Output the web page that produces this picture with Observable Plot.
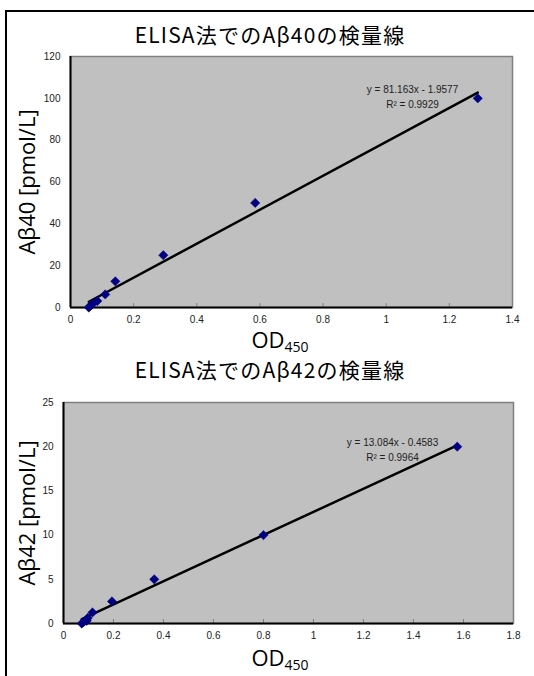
<!DOCTYPE html>
<html>
<head>
<meta charset="utf-8">
<script src="https://cdn.jsdelivr.net/npm/d3@7"></script>
<script src="https://cdn.jsdelivr.net/npm/@observablehq/plot@0.6"></script>
<style>
  html, body { margin: 0; padding: 0; background: #fff; }
  #page { position: relative; width: 534px; height: 676px; overflow: hidden; }
  #frame { position: absolute; left: 5px; top: 10px; width: 540px; height: 700px; border: 2px solid #000; box-sizing: border-box; }
  .title { position: absolute; left: 0; width: 540px; text-align: center; font-family: "Noto Sans CJK JP", "Noto Sans", sans-serif; font-size: 21px; letter-spacing: 1.2px; color: #000; line-height: 1; }
  .xlabel { position: absolute; left: 0; width: 560px; text-align: center; font-family: "Open Sans", "Noto Sans", sans-serif; font-size: 22px; color: #000; line-height: 1; }
  .xlabel sub { font-size: 14px; vertical-align: -4px; line-height: 0; }
  .chart { position: absolute; left: 0; }
</style>
</head>
<body>
<div id="page">
  <div id="frame"></div>
  <div class="title" style="top:24px;">ELISA法でのAβ40の検量線</div>
  <div class="chart" id="c1" style="top:48px;"></div>
  <div class="xlabel" style="top:328px;">OD<sub>450</sub></div>
  <div class="title" style="top:359px;">ELISA法でのAβ42の検量線</div>
  <div class="chart" id="c2" style="top:390px;"></div>
  <div class="xlabel" style="top:646px;">OD<sub>450</sub></div>
</div>
<script>
// ---- Data: Aβ40 standard curve ----
const ab40OD   = [0.058, 0.063, 0.069, 0.085, 0.110, 0.142, 0.294, 0.585, 1.290];
const ab40Conc = [0, 0.78, 1.56, 3.125, 6.25, 12.5, 25, 50, 100];
const ab40Fit  = {slope: 81.163, intercept: -1.9577, r2: 0.9929};
const ab40XTicks = [0, 0.2, 0.4, 0.6, 0.8, 1, 1.2, 1.4];
const ab40YTicks = [0, 20, 40, 60, 80, 100, 120];

// ---- Data: Aβ42 standard curve ----
const ab42OD   = [0.073, 0.080, 0.093, 0.097, 0.116, 0.194, 0.363, 0.800, 1.575];
const ab42Conc = [0, 0.156, 0.3125, 0.625, 1.25, 2.5, 5, 10, 20];
const ab42Fit  = {slope: 13.084, intercept: -0.4583, r2: 0.9964};
const ab42XTicks = [0, 0.2, 0.4, 0.6, 0.8, 1, 1.2, 1.4, 1.6, 1.8];
const ab42YTicks = [0, 5, 10, 15, 20, 25];

const tickFont = {fontFamily: "'Liberation Sans', Arial, sans-serif", fontSize: "10px", color: "#222", background: "transparent", overflow: "visible"};
const arial = "'Liberation Sans', Arial, sans-serif";

function makeChart({od, conc, fit, xTicks, yTicks, ylabel, eqText, r2Text, m, height, eqDx, eqDy}) {
  const pts = od.map((x, i) => ({x, y: conc[i]}));
  const xmin = d3.min(od), xmax = d3.max(od);
  const line = [xmin, xmax].map(x => ({x, y: fit.slope * x + fit.intercept}));
  const xDomain = [xTicks[0], xTicks[xTicks.length - 1]];
  const yDomain = [yTicks[0], yTicks[yTicks.length - 1]];
  return Plot.plot({
    width: 534,
    height,
    marginLeft: m.l, marginRight: m.r, marginTop: m.t, marginBottom: m.b,
    style: tickFont,
    x: {domain: xDomain, ticks: xTicks, label: null},
    y: {domain: yDomain, ticks: yTicks, label: null},
    marks: [
      Plot.frame({fill: "#c0c0c0", stroke: "#808080", strokeWidth: 1.5}),
      Plot.axisX({ticks: xTicks, tickSize: 4, dy: -4, stroke: "#808080", tickFormat: () => ""}),
      Plot.axisX({ticks: xTicks, tickSize: 0, tickPadding: 8, tickFormat: d => String(d), fontSize: 10, fill: "#222"}),
      Plot.axisY({ticks: yTicks, tickSize: 0, tickPadding: 10, tickFormat: d => String(d), fontSize: 10, fill: "#222"}),
      Plot.ruleY([yDomain[0]], {stroke: "#000", strokeWidth: 2}),
      Plot.ruleX([xDomain[0]], {stroke: "#000", strokeWidth: 2}),
      Plot.line(line, {x: "x", y: "y", stroke: "#000", strokeWidth: 2.5}),
      Plot.dot(pts, {x: "x", y: "y", symbol: "diamond2", r: 4.2, fill: "#000080", stroke: "#000080", strokeWidth: 0.5}),
      Plot.text([eqText], {frameAnchor: "top-right", dx: eqDx, dy: eqDy, fontSize: 10, fill: "#222", textAnchor: "middle", fontFamily: arial}),
      Plot.text([r2Text], {frameAnchor: "top-right", dx: eqDx, dy: eqDy + 15, fontSize: 10, fill: "#222", textAnchor: "middle", fontFamily: arial}),
      Plot.text([ylabel], {frameAnchor: "left", textAnchor: "middle", lineAnchor: "middle", rotate: -90, dx: -(m.l - 27), fontSize: 22, fill: "#000", fontFamily: "'Open Sans', 'Noto Sans', sans-serif"})
    ]
  });
}

const fmtEq = f => `y = ${f.slope}x - ${Math.abs(f.intercept)}`;

document.getElementById("c1").appendChild(makeChart({
  od: ab40OD, conc: ab40Conc, fit: ab40Fit, xTicks: ab40XTicks, yTicks: ab40YTicks,
  ylabel: "Aβ40 [pmol/L]", eqText: fmtEq(ab40Fit), r2Text: `R² = ${ab40Fit.r2}`,
  m: {l: 70, r: 22, t: 8, b: 26}, height: 285, eqDx: -100, eqDy: 29
}));

document.getElementById("c2").appendChild(makeChart({
  od: ab42OD, conc: ab42Conc, fit: ab42Fit, xTicks: ab42XTicks, yTicks: ab42YTicks,
  ylabel: "Aβ42 [pmol/L]", eqText: fmtEq(ab42Fit), r2Text: `R² = ${ab42Fit.r2}`,
  m: {l: 63, r: 21, t: 12, b: 17}, height: 250, eqDx: -121, eqDy: 36
}));
</script>
</body>
</html>
